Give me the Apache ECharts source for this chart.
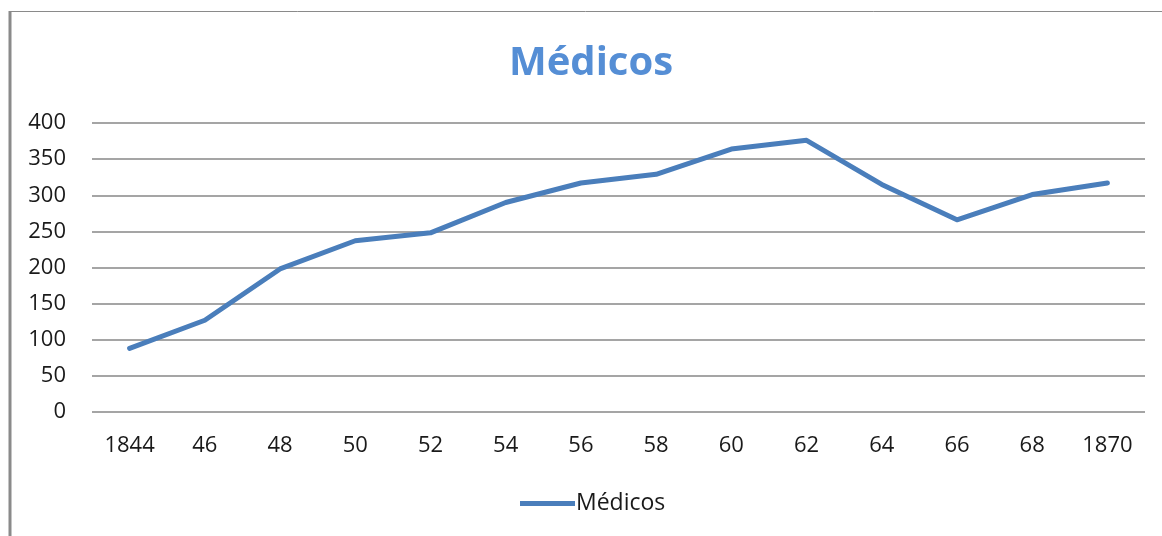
<!DOCTYPE html>
<html>
<head>
<meta charset="utf-8">
<script src="https://cdn.jsdelivr.net/npm/echarts@6/dist/echarts.min.js"></script>
<style>
  html, body { margin: 0; padding: 0; background: #ffffff; }
  #chart { width: 1162px; height: 536px; }
</style>
</head>
<body>
<div id="chart"></div>
<script>
// Number of physicians per year, 1844–1870
const years = ['1844', '46', '48', '50', '52', '54', '56', '58', '60', '62', '64', '66', '68', '1870'];
const medicos = [88, 127, 198, 237, 248, 290, 317, 329, 364, 376, 315, 266, 301, 317];
const yTicks = { min: 0, max: 400, interval: 50 };
const seriesName = 'Médicos';

const FONT = '"Open Sans", "Noto Sans", sans-serif';
const BLUE = '#4a7ebb';
const GRID = '#878787';

const chart = echarts.init(document.getElementById('chart'), null, { renderer: 'canvas' });

chart.setOption({
  backgroundColor: '#ffffff',
  animation: false,
  title: {
    text: seriesName,
    left: 509,
    top: 44,
    padding: 0,
    textStyle: { fontFamily: FONT, fontSize: 40, fontWeight: 'bold', color: '#558ed5' }
  },
  legend: {
    data: [{ name: seriesName, icon: 'rect' }],
    left: 520,
    top: 492,
    padding: 0,
    itemWidth: 55,
    itemHeight: 5,
    itemGap: 0,
    textStyle: { fontFamily: FONT, fontSize: 23, color: '#1a1a1a', padding: [0, 0, 0, -4] }
  },
  grid: { left: 92, right: 17, top: 123, bottom: 124 },
  xAxis: {
    type: 'category',
    data: years,
    boundaryGap: true,
    axisLine: { show: false },
    axisTick: { show: false },
    axisLabel: { fontFamily: FONT, fontSize: 22, color: '#1a1a1a', margin: 23 }
  },
  yAxis: {
    type: 'value',
    min: yTicks.min,
    max: yTicks.max,
    interval: yTicks.interval,
    axisLine: { show: false },
    axisTick: { show: false },
    axisLabel: { fontFamily: FONT, fontSize: 22, color: '#1a1a1a', margin: 26 },
    splitLine: { lineStyle: { color: GRID, width: 1.5 } }
  },
  series: [{
    name: seriesName,
    type: 'line',
    data: medicos,
    showSymbol: false,
    symbol: 'none',
    itemStyle: { color: BLUE },
    lineStyle: { color: BLUE, width: 5, join: 'round', cap: 'round' }
  }],
  graphic: [
    // outer frame edges
    { type: 'line', shape: { x1: 10, y1: 11, x2: 10, y2: 536 }, style: { stroke: '#8a8a8a', lineWidth: 3 } },
    { type: 'line', shape: { x1: 9, y1: 11.5, x2: 1162, y2: 11.5 }, style: { stroke: '#8a8a8a', lineWidth: 1 } }
  ]
});
</script>
</body>
</html>
